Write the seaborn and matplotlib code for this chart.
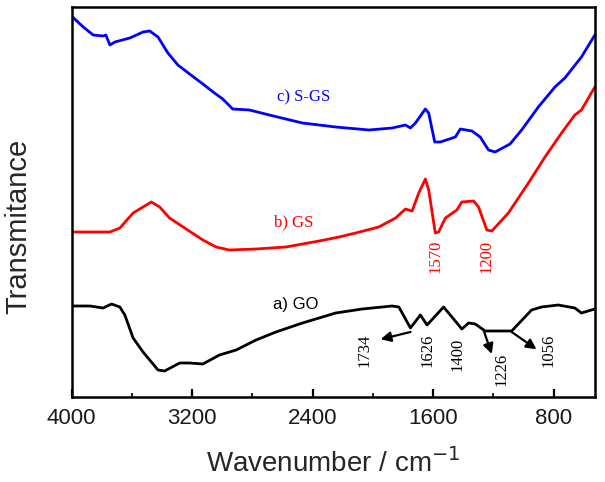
import numpy as np
import pandas as pd
import matplotlib
matplotlib.use("Agg")
import matplotlib.pyplot as plt
from matplotlib.ticker import MultipleLocator
import seaborn as sns

# ---- data (wavenumber in cm-1, transmittance in arbitrary offset units) ----
go_wn = [4000, 3878, 3790, 3734, 3679, 3646, 3591, 3525, 3426, 3382, 3282, 3216, 3128,
         3018, 2907, 2775, 2643, 2467, 2246, 2070, 1872, 1827, 1750, 1684, 1640, 1530,
         1409, 1364, 1320, 1254, 1078, 946, 880, 769, 659, 615, 526]
go_t = [91, 91, 89, 93, 90, 82, 59, 45, 27, 26, 34, 34, 33,
        42, 47, 57, 65, 74, 84, 88, 91, 90, 69, 82, 72, 90,
        68, 74, 73, 66, 66, 87, 90, 92, 89, 84, 88]

gs_wn = [4000, 3745, 3679, 3591, 3470, 3415, 3349, 3249, 3128, 3040, 2952, 2775, 2577,
         2356, 2224, 2114, 1960, 1849, 1783, 1739, 1695, 1651, 1629, 1585, 1563, 1518,
         1442, 1409, 1331, 1298, 1243, 1210, 1100, 967, 857, 747, 659, 615, 526]
gs_t = [165, 165, 169, 184, 195, 190, 179, 169, 157, 150, 147, 148, 150,
        156, 160, 164, 170, 179, 188, 186, 204, 218, 207, 164, 165, 179,
        187, 195, 196, 190, 167, 166, 184, 214, 240, 264, 282, 287, 310]

sgs_wn = [4000, 3922, 3856, 3790, 3772, 3745, 3712, 3613, 3525, 3481, 3426, 3360, 3294,
          3216, 3128, 3051, 2996, 2930, 2819, 2687, 2467, 2246, 2026, 1872, 1783, 1750,
          1717, 1651, 1629, 1589, 1552, 1452, 1419, 1342, 1287, 1232, 1188, 1089, 1012,
          901, 791, 725, 615, 526]
sgs_t = [381, 370, 362, 361, 362, 352, 355, 359, 365, 366, 360, 344, 332,
         323, 313, 304, 298, 288, 287, 282, 274, 270, 267, 269, 272, 269,
         274, 288, 284, 255, 255, 260, 268, 266, 260, 247, 245, 253, 267,
         290, 310, 319, 340, 362]

series_names = ["a) GO", "b) GS", "c) S-GS"]
series_colors = ["#000000", "#ff0000", "#0000ff"]

xticks = [4000, 3200, 2400, 1600, 800]
x_label = "Wavenumber / cm$^{-1}$"
y_label = "Transmitance"

df = pd.concat([
    pd.DataFrame({"wn": go_wn, "T": go_t, "sample": series_names[0]}),
    pd.DataFrame({"wn": gs_wn, "T": gs_t, "sample": series_names[1]}),
    pd.DataFrame({"wn": sgs_wn, "T": sgs_t, "sample": series_names[2]}),
])

sns.set_theme(style="white")
plt.rcParams["font.family"] = ["Liberation Sans", "DejaVu Sans"]

fig = plt.figure(figsize=(6.05, 4.82), dpi=100)
ax = fig.add_axes([71.5 / 605, 85 / 482, 523.5 / 605, 390 / 482])

sns.lineplot(data=df, x="wn", y="T", hue="sample", palette=series_colors,
             hue_order=series_names, linewidth=2.0, legend=False, ax=ax,
             estimator=None)

ax.set_xlim(4000, 525)
ax.set_ylim(0, 390)
ax.set_xticks(xticks)
ax.set_xticklabels([str(t) for t in xticks], fontsize=16, color="#1a1a1a")
ax.xaxis.set_minor_locator(MultipleLocator(400))
ax.set_yticks([])
ax.tick_params(axis="x", which="major", direction="in", length=6, width=1.6,
               bottom=True, top=False, pad=8, colors="black", labelcolor="#1a1a1a")
ax.tick_params(axis="x", which="minor", direction="in", length=3, width=1.4,
               bottom=True, top=False)
for s in ax.spines.values():
    s.set_visible(True)
    s.set_color("black")
    s.set_linewidth(1.8)

ax.set_xlabel(x_label, fontsize=20, labelpad=14)
ax.set_ylabel("")
fig.text(18 / 605, 1 - 226 / 482, y_label, rotation=90, fontsize=21,
         ha="center", va="center")

serif = ["Liberation Serif", "DejaVu Serif"]
ax.text(2456, 300, series_names[2], color="#0000ff", fontsize=12, family=serif,
        ha="center", va="center")
ax.text(2522, 174.5, series_names[1], color="#ff0000", fontsize=12, family=serif,
        ha="center", va="center")
ax.text(2509, 93, series_names[0], color="black", fontsize=12,
        ha="center", va="center")

# peak labels
red_peaks = [(1585, 140.5, "1570"), (1245, 141, "1200")]
for x, y, s in red_peaks:
    ax.text(x, y, s, color="#ff0000", rotation=90, fontsize=12, family=serif,
            ha="center", va="center")
black_peaks = [(2052, 46.5, "1734"), (1637, 46.5, "1626"), (1437, 43, "1400"),
               (1149, 28, "1226"), (835, 46.5, "1056")]
for x, y, s in black_peaks:
    ax.text(x, y, s, color="black", rotation=90, fontsize=12, family=serif,
            ha="center", va="center")

arrows = [((1750, 65), (1948, 57.7)), ((1265, 67), (1210, 43)), ((1078, 65), (913, 47.7))]
for tail, head in arrows:
    ax.annotate("", xy=head, xytext=tail,
                arrowprops=dict(arrowstyle="-|>,head_length=0.5,head_width=0.25",
                                color="black", lw=1.6, shrinkA=0, shrinkB=0))

fig.savefig("out.png", dpi=100)
